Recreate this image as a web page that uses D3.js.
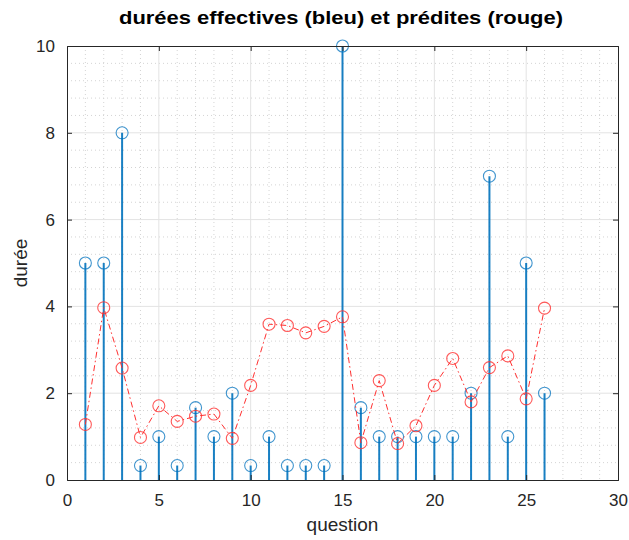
<!DOCTYPE html>
<html>
<head>
<meta charset="utf-8">
<script src="https://cdn.jsdelivr.net/npm/d3@7"></script>
<style>
  html, body { margin: 0; padding: 0; background: #fff; }
  text { font-family: "Liberation Sans", Arial, Helvetica, sans-serif; }
</style>
</head>
<body>
<svg id="chart" width="629" height="540"></svg>
<script>
// question numbers
const questions = d3.range(1, 27);
// actual durations (blue stems)
const effectives = [5, 5, 8, 1/3, 1, 1/3, 5/3, 1, 2, 1/3, 1, 1/3, 1/3, 1/3, 10, 5/3, 1, 1, 1, 1, 1, 2, 7, 1, 5, 2];
// predicted durations (red dash-dot line)
const predites = [1.28, 3.97, 2.58, 0.98, 1.71, 1.35, 1.47, 1.52, 0.96, 2.18, 3.59, 3.56, 3.39, 3.54, 3.76, 0.86, 2.29, 0.84, 1.25, 2.18, 2.80, 1.80, 2.59, 2.86, 1.87, 3.96];
const xTicks = [0, 5, 10, 15, 20, 25, 30];
const yTicks = [0, 2, 4, 6, 8, 10];

const svg = d3.select("#chart");
const m = { left: 67, right: 618, top: 46, bottom: 480 };
const x = d3.scaleLinear().domain([0, 30]).range([m.left, m.right]);
const y = d3.scaleLinear().domain([0, 10]).range([m.bottom, m.top]);

const blue = "#0072BD";
const red = "#FF3030";

// minor grid (dotted)
const g = svg.append("g");
g.selectAll(".xminor").data(d3.range(1, 30).filter(v => v % 5 !== 0)).join("line")
  .attr("x1", d => x(d)).attr("x2", d => x(d)).attr("y1", m.top).attr("y2", m.bottom)
  .attr("stroke", "#d4d4d4").attr("stroke-width", 1).attr("stroke-dasharray", "1,3");
g.selectAll(".yminor").data(d3.range(1, 25).map(i => i * 0.4).filter(v => Math.abs(v / 2 - Math.round(v / 2)) > 1e-6)).join("line")
  .attr("x1", m.left).attr("x2", m.right).attr("y1", d => y(d)).attr("y2", d => y(d))
  .attr("stroke", "#d4d4d4").attr("stroke-width", 1).attr("stroke-dasharray", "1,3");

// major grid (solid)
g.selectAll(".xmajor").data(xTicks.slice(1, -1)).join("line")
  .attr("x1", d => x(d)).attr("x2", d => x(d)).attr("y1", m.top).attr("y2", m.bottom)
  .attr("stroke", "#e3e3e3").attr("stroke-width", 1);
g.selectAll(".ymajor").data(yTicks.slice(1, -1)).join("line")
  .attr("x1", m.left).attr("x2", m.right).attr("y1", d => y(d)).attr("y2", d => y(d))
  .attr("stroke", "#e3e3e3").attr("stroke-width", 1);

// stems
svg.append("g").selectAll("line").data(questions).join("line")
  .attr("x1", (d) => x(d)).attr("x2", d => x(d))
  .attr("y1", y(0)).attr("y2", (d, i) => y(effectives[i]))
  .attr("stroke", blue).attr("stroke-width", 2).attr("stroke-opacity", 0.9);
svg.append("g").selectAll("circle").data(questions).join("circle")
  .attr("cx", d => x(d)).attr("cy", (d, i) => y(effectives[i])).attr("r", 6)
  .attr("fill", "none").attr("stroke", blue).attr("stroke-width", 1.1).attr("stroke-opacity", 0.75);

// predicted line
const line = d3.line().x(d => x(d[0])).y(d => y(d[1]));
svg.append("path").datum(questions.map((q, i) => [q, predites[i]]))
  .attr("d", line).attr("fill", "none").attr("stroke", red).attr("stroke-width", 1)
  .attr("stroke-dasharray", "6,3,1.5,3");
svg.append("g").selectAll("circle").data(questions).join("circle")
  .attr("cx", d => x(d)).attr("cy", (d, i) => y(predites[i])).attr("r", 6)
  .attr("fill", "none").attr("stroke", red).attr("stroke-width", 1.1).attr("stroke-opacity", 0.8);

// axes with inward ticks, mirrored on top/right
const axisColor = "#262626";
const xb = svg.append("g").attr("transform", `translate(0,${m.bottom})`)
  .call(d3.axisBottom(x).tickValues(xTicks).tickSize(-5).tickPadding(14).tickFormat(d3.format("d")));
const xt = svg.append("g").attr("transform", `translate(0,${m.top})`)
  .call(d3.axisTop(x).tickValues(xTicks).tickSize(-5).tickFormat(""));
const yl = svg.append("g").attr("transform", `translate(${m.left},0)`)
  .call(d3.axisLeft(y).tickValues(yTicks).tickSize(-5).tickPadding(12).tickFormat(d3.format("d")));
const yr = svg.append("g").attr("transform", `translate(${m.right},0)`)
  .call(d3.axisRight(y).tickValues(yTicks).tickSize(-5).tickFormat(""));
[xb, xt, yl, yr].forEach(a => {
  a.select(".domain").attr("stroke", axisColor).attr("stroke-width", 1);
  a.selectAll(".tick line").attr("stroke", axisColor).attr("stroke-width", 1);
  a.selectAll(".tick text").attr("fill", "#262626").style("font-size", "17px")
    .style("font-family", "'Liberation Sans', Arial, sans-serif");
});
[xb, xt, yl, yr].forEach(a => {
  a.select(".tick:first-of-type line").remove();
  a.select(".tick:last-of-type line").remove();
});

// labels
svg.append("text").attr("x", (m.left + m.right) / 2).attr("y", 531)
  .attr("text-anchor", "middle").style("font-size", "19px").attr("fill", "#262626").text("question");
svg.append("text").attr("transform", `translate(27,${(m.top + m.bottom) / 2}) rotate(-90)`)
  .attr("text-anchor", "middle").style("font-size", "19px").attr("fill", "#262626").text("durée");
svg.append("text").attr("x", 341).attr("y", 24)
  .attr("text-anchor", "middle").style("font-size", "19px").style("font-weight", "bold")
  .attr("textLength", 444).attr("lengthAdjust", "spacingAndGlyphs")
  .attr("fill", "#000").text("durées effectives (bleu) et prédites (rouge)");
</script>
</body>
</html>
